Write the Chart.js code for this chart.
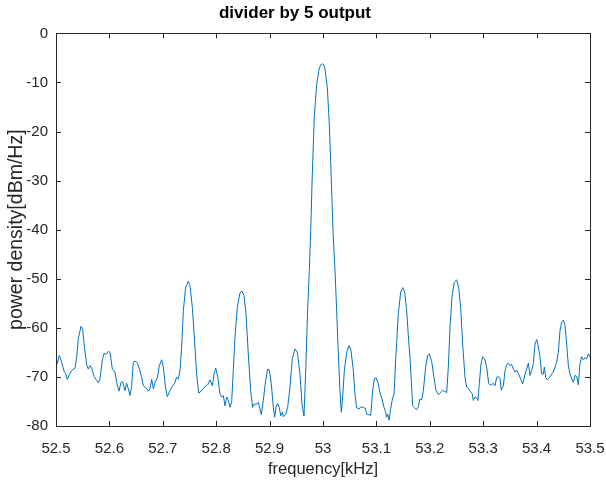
<!DOCTYPE html>
<html>
<head>
<meta charset="utf-8">
<script src="https://cdn.jsdelivr.net/npm/chart.js@4.4.1/dist/chart.umd.min.js"></script>
<style>
  html, body { margin: 0; padding: 0; background: #fff; }
  canvas { display: block; }
</style>
</head>
<body>
<canvas id="psd" width="606" height="484"></canvas>
<script>
// spectrum: frequency [kHz] / power density [dBm/Hz]
const freqKHz = [
  52.5000, 52.5025, 52.5062, 52.5106, 52.5156, 52.5181, 52.5212, 52.5250, 52.5293, 52.5356,
  52.5387, 52.5418, 52.5468, 52.5499, 52.5537, 52.5574, 52.5605, 52.5637, 52.5668, 52.5712,
  52.5762, 52.5793, 52.5824, 52.5868, 52.5899, 52.5936, 52.5980, 52.6011, 52.6055, 52.6105,
  52.6136, 52.6180, 52.6217, 52.6248, 52.6292, 52.6323, 52.6354, 52.6386, 52.6417, 52.6448,
  52.6479, 52.6523, 52.6561,
  52.6604, 52.6635, 52.6685, 52.6729, 52.6760, 52.6792, 52.6823, 52.6854, 52.6898, 52.6935,
  52.6979, 52.7010, 52.7047, 52.7085, 52.7135, 52.7172, 52.7216, 52.7260, 52.7291, 52.7322,
  52.7353, 52.7385, 52.7428, 52.7478, 52.7509, 52.7553, 52.7591, 52.7634, 52.7672, 52.7715,
  52.7759, 52.7803, 52.7840, 52.7884, 52.7928, 52.7959, 52.7990, 52.8028, 52.8071, 52.8102,
  52.8134, 52.8165, 52.8196, 52.8227,
  52.8258, 52.8289, 52.8320, 52.8352, 52.8395, 52.8445, 52.8483, 52.8520, 52.8558, 52.8601,
  52.8645, 52.8682, 52.8714, 52.8745, 52.8789, 52.8820, 52.8845, 52.8882, 52.8926, 52.8963,
  52.8995, 52.9032, 52.9070, 52.9095, 52.9119, 52.9151, 52.9182, 52.9207, 52.9238, 52.9257,
  52.9300, 52.9338, 52.9382, 52.9425, 52.9475, 52.9519, 52.9569, 52.9606, 52.9644, 52.9681,
  52.9712, 52.9744, 52.9770, 52.9800, 52.9837, 52.9882, 52.9931, 52.9959, 52.9987, 53.0013,
  53.0037, 53.0081, 53.0118, 53.0150, 53.0187, 53.0225,
  53.0256, 53.0287, 53.0318, 53.0343, 53.0368, 53.0400, 53.0443, 53.0487, 53.0524, 53.0568,
  53.0599, 53.0630, 53.0674, 53.0712, 53.0755, 53.0793, 53.0818, 53.0862, 53.0893, 53.0930,
  53.0961, 53.0993, 53.1036, 53.1068, 53.1105, 53.1142, 53.1167, 53.1192, 53.1211, 53.1236,
  53.1267, 53.1299, 53.1330, 53.1367, 53.1411, 53.1455, 53.1492, 53.1530, 53.1567, 53.1604,
  53.1629, 53.1660, 53.1679, 53.1716, 53.1754, 53.1785, 53.1816, 53.1848, 53.1879, 53.1922,
  53.1960, 53.1991, 53.2035, 53.2078, 53.2116, 53.2160, 53.2203, 53.2241, 53.2278, 53.2316,
  53.2347, 53.2378, 53.2416, 53.2459, 53.2503, 53.2540, 53.2578, 53.2615, 53.2659, 53.2690,
  53.2728, 53.2765, 53.2796, 53.2815, 53.2846, 53.2877, 53.2902, 53.2927, 53.2959, 53.2990,
  53.3027, 53.3065, 53.3102, 53.3127, 53.3158, 53.3190, 53.3221, 53.3252, 53.3283, 53.3315,
  53.3339,
  53.3346, 53.3377, 53.3409, 53.3440, 53.3471, 53.3502, 53.3534, 53.3565, 53.3596, 53.3627,
  53.3658, 53.3702, 53.3739, 53.3783, 53.3814, 53.3846, 53.3877, 53.3908, 53.3939, 53.3970,
  53.4002, 53.4033, 53.4064, 53.4095, 53.4127, 53.4145, 53.4170, 53.4201, 53.4239, 53.4283,
  53.4314, 53.4345, 53.4376, 53.4407, 53.4439, 53.4470, 53.4501, 53.4532, 53.4563, 53.4595,
  53.4626, 53.4657, 53.4688, 53.4720, 53.4751, 53.4782, 53.4813, 53.4845, 53.4876, 53.4907,
  53.4938, 53.4969, 53.5000
];
const powerDbm = [
  -65.9, -67.3, -65.6, -67.0, -69.0, -69.3, -70.5, -69.5, -68.7, -68.2,
  -66.0, -62.2, -59.7, -60.4, -64.3, -67.5, -68.4, -67.7, -68.2, -69.9,
  -70.7, -71.2, -70.4, -66.5, -65.2, -65.4, -64.8, -65.0, -68.4, -69.0,
  -71.1, -72.9, -71.1, -71.0, -72.8, -71.3, -72.4, -73.8, -71.8, -67.0,
  -66.8, -67.1, -68.3,
  -70.1, -71.8, -72.2, -72.9, -72.4, -70.5, -72.4, -71.1, -70.2, -67.7,
  -66.5, -68.0, -71.8, -74.0, -72.8, -72.0, -71.4, -70.1, -70.4, -68.7,
  -64.0, -56.5, -51.7, -50.5, -51.4, -55.8, -61.9, -69.4, -73.3, -72.9,
  -72.4, -71.8, -71.6, -70.6, -71.8, -69.4, -68.2, -69.9, -73.5, -74.1,
  -73.8, -75.9, -74.1, -74.7,
  -76.2, -75.2, -68.7, -61.9, -55.8, -52.9, -52.5, -53.4, -57.1, -65.3,
  -72.8, -76.2, -75.5, -75.6, -75.2, -76.5, -77.7, -74.8, -70.7, -68.4,
  -68.6, -71.4, -76.2, -78.2, -76.2, -75.4, -76.2, -77.9, -77.2, -78.1,
  -77.7, -76.2, -72.1, -66.3, -64.3, -65.0, -69.4, -75.5, -78.0, -67.3,
  -56.5, -48.3, -40.2, -28.6, -17.1, -10.3, -7.0, -6.4, -6.2, -6.4,
  -7.2, -11.0, -18.4, -28.0, -40.2, -48.3,
  -56.5, -65.3, -72.8, -77.2, -74.1, -68.7, -65.0, -63.6, -64.6, -68.7,
  -73.5, -76.3, -76.5, -76.1, -76.2, -76.4, -77.6, -77.7, -77.9, -72.8,
  -70.4, -70.2, -71.4, -73.3, -74.5, -76.2, -76.9, -78.2, -77.6, -78.8,
  -76.5, -74.5, -73.5, -65.3, -57.1, -52.7, -51.8, -52.7, -56.5, -62.6,
  -66.0, -72.1, -75.9, -76.3, -76.7, -76.1, -74.5, -74.7, -72.8, -68.0,
  -65.6, -65.3, -66.8, -70.1, -72.7, -73.6, -73.2, -72.8, -72.9, -73.2,
  -68.0, -59.9, -53.7, -50.7, -50.2, -51.7, -55.8, -63.3, -70.1, -72.1,
  -72.4, -73.1, -73.5, -74.8, -74.1, -74.3, -74.8, -71.4, -67.3, -65.9,
  -66.3, -68.0, -71.3, -71.6, -71.6, -71.3, -71.8, -70.1, -69.9, -70.4,
  -72.7,
  -72.4, -71.8, -68.7, -67.5, -67.2, -67.7, -67.5, -68.4, -69.0, -68.6,
  -69.3, -70.4, -71.4, -69.5, -68.4, -67.2, -69.7, -68.7, -67.3, -63.3,
  -62.4, -63.9, -66.0, -69.4, -69.4, -68.0, -70.1, -70.6, -70.2, -69.4,
  -69.0, -68.0, -67.0, -65.0, -60.5, -58.8, -58.4, -59.5, -63.3, -67.7,
  -69.4, -70.4, -71.1, -69.7, -69.9, -71.6, -67.3, -65.9, -66.5, -66.1,
  -66.3, -65.3, -66.0
];
const xTicks = [52.5, 52.6, 52.7, 52.8, 52.9, 53, 53.1, 53.2, 53.3, 53.4, 53.5];
const yTicks = [-80, -70, -60, -50, -40, -30, -20, -10, 0];

const AXIS_COLOR = '#262626';
const LINE_COLOR = '#0072BD';
const FONT = "'Liberation Sans', Arial, sans-serif";

// MATLAB style box with inward ticks on all four sides
const boxTicks = {
    id: 'boxTicks',
    afterDraw(chart) {
        const { ctx, chartArea: a, scales } = chart;
        const len = 5;
        ctx.save();
        ctx.strokeStyle = AXIS_COLOR;
        ctx.lineWidth = 1;
        ctx.beginPath();
        xTicks.forEach(v => {
            const px = Math.round(scales.x.getPixelForValue(v)) + 0.5;
            ctx.moveTo(px, a.bottom); ctx.lineTo(px, a.bottom - len);
            ctx.moveTo(px, a.top); ctx.lineTo(px, a.top + len);
        });
        yTicks.forEach(v => {
            const py = Math.round(scales.y.getPixelForValue(v)) + 0.5;
            ctx.moveTo(a.left, py); ctx.lineTo(a.left + len, py);
            ctx.moveTo(a.right, py); ctx.lineTo(a.right - len, py);
        });
        ctx.stroke();
        ctx.strokeRect(Math.round(a.left) + 0.5, Math.round(a.top) + 0.5,
            Math.round(a.right - a.left), Math.round(a.bottom - a.top));
        ctx.restore();
    }
};

new Chart(document.getElementById('psd'), {
    type: 'line',
    data: {
        datasets: [{
            data: freqKHz.map((f, i) => ({ x: f, y: powerDbm[i] })),
            borderColor: LINE_COLOR,
            borderWidth: 1,
            pointRadius: 0,
            tension: 0,
            fill: false
        }]
    },
    options: {
        responsive: false,
        animation: false,
        layout: { padding: { left: 0, right: 16, top: 0, bottom: 0 } },
        plugins: {
            legend: { display: false },
            tooltip: { enabled: false },
            title: {
                display: true,
                text: 'divider by 5 output',
                color: '#000',
                font: { family: FONT, size: 17, weight: 'bold', lineHeight: 1.2 },
                padding: { top: 3, bottom: 10 }
            }
        },
        scales: {
            x: {
                type: 'linear',
                min: 52.5,
                max: 53.5,
                afterBuildTicks: s => { s.ticks = xTicks.map(v => ({ value: v })); },
                afterFit: s => { s.height = 58; s.paddingLeft = 0; s.paddingRight = 0; },
                grid: { display: false, drawTicks: false },
                border: { display: false },
                ticks: {
                    color: AXIS_COLOR,
                    padding: 14,
                    maxRotation: 0,
                    font: { family: FONT, size: 15 },
                    callback: v => String(Number(v.toFixed(1)))
                },
                title: {
                    display: true,
                    text: 'frequency[kHz]',
                    color: AXIS_COLOR,
                    font: { family: FONT, size: 16.5 },
                    padding: { top: 0, bottom: 5 }
                }
            },
            y: {
                min: -80,
                max: 0,
                afterBuildTicks: s => { s.ticks = yTicks.map(v => ({ value: v })); },
                afterFit: s => { s.width = 56; s.paddingTop = 0; s.paddingBottom = 0; },
                grid: { display: false, drawTicks: false },
                border: { display: false },
                ticks: {
                    color: AXIS_COLOR,
                    padding: 8,
                    font: { family: FONT, size: 15 }
                },
                title: {
                    display: true,
                    text: 'power density[dBm/Hz]',
                    color: AXIS_COLOR,
                    font: { family: FONT, size: 19.5 },
                    padding: { top: 5, bottom: 0 }
                }
            }
        }
    },
    plugins: [boxTicks]
});
</script>
</body>
</html>
